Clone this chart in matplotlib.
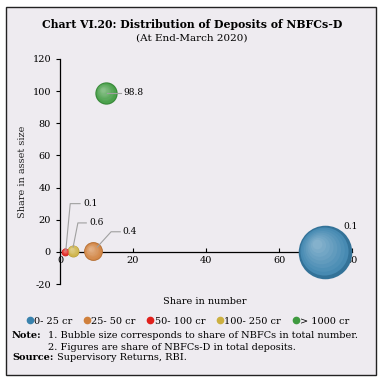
import matplotlib.pyplot as plt
import matplotlib.transforms as mtransforms
from matplotlib.patches import Rectangle
from matplotlib.lines import Line2D
import numpy as np

plt.rcParams['font.family'] = ['DejaVu Serif']
plt.rcParams['axes.unicode_minus'] = False

# data
groups = ['0- 25 cr', '25- 50 cr', '50- 100 cr', '100- 250 cr', '> 1000 cr']
share_number = [72.5, 9.0, 1.5, 3.6, 12.6]     # x
share_asset = [0.1, 0.4, 0.1, 0.6, 98.8]       # y
deposit_share = ['0.1', '0.4', '0.1', '0.6', '98.8']
colors = ['#3a82ad', '#d0803c', '#e0201c', '#ccb040', '#3f9a40']

# label positions for the figures (data coords)
label_xy = [(77.5, 16), (17, 12.5), (6.3, 30), (8, 18), (17.5, 99)]
leader = [None,
          [(10.2, 3), (14, 12.5), (16.5, 12.5)],
          [(1.6, 1), (2.8, 30), (5.5, 30)],
          [(3.6, 3), (4.9, 18), (7.2, 18)],
          [(13, 99), (16.8, 99)]]

bg = '#eeebf0'
fig = plt.figure(figsize=(3.84, 3.79), dpi=100)
fig.patch.set_facecolor('white')
fig.patches.append(Rectangle((6 / 384, 4 / 379), 370 / 384, 368 / 379, transform=fig.transFigure,
                             facecolor=bg, edgecolor='#222222', linewidth=1.0, zorder=-5))

ax = fig.add_axes([60 / 384, 1 - 284 / 379, 292 / 384, 225 / 379])
ax.set_facecolor('none')
ax.set_xlim(0, 80)
ax.set_ylim(-20, 120)

size_scale = 20.5


def lighten(c, f):
    rgb = np.array(plt.matplotlib.colors.to_rgb(c))
    return tuple(rgb + (1 - rgb) * f)


def darken(c, f):
    rgb = np.array(plt.matplotlib.colors.to_rgb(c))
    return tuple(rgb * (1 - f))


# bubbles with a bit of shading
for i in range(len(groups)):
    s = share_number[i] * size_scale
    d = np.sqrt(s)
    ax.scatter(share_number[i], share_asset[i], s=s, color=darken(colors[i], 0.12),
               zorder=3, clip_on=False, linewidths=0)
    for k in range(1, 9):
        f = k / 9
        off = mtransforms.offset_copy(ax.transData, fig=fig, x=-0.16 * d * f, y=0.16 * d * f, units='points')
        ax.scatter(share_number[i], share_asset[i], s=s * (1 - f * 0.92) ** 2,
                   color=lighten(colors[i], 0.02 + f * 0.4), transform=off,
                   zorder=3 + k * 0.01, clip_on=False, linewidths=0)

for i in range(len(groups)):
    if leader[i] is not None:
        xs, ys = zip(*leader[i])
        ax.plot(xs, ys, color='#a0a0a0', lw=0.8, zorder=4, clip_on=False)
    ax.text(label_xy[i][0], label_xy[i][1], deposit_share[i], fontsize=6.5,
            va='center', ha='left', zorder=5)

ax.spines['top'].set_visible(False)
ax.spines['right'].set_visible(False)
ax.spines['bottom'].set_position(('data', 0))
ax.spines['bottom'].set_bounds(0, 80)
for sp in ['left', 'bottom']:
    ax.spines[sp].set_linewidth(0.9)
ax.set_xticks([0, 20, 40, 60, 80])
ax.set_yticks([-20, 0, 20, 40, 60, 80, 100, 120])
ax.tick_params(axis='both', labelsize=7, length=3, width=0.8, direction='out')
ax.tick_params(axis='x', direction='in', pad=3)
ax.set_ylabel('Share in asset size', fontsize=7, color='#222222', labelpad=4)

fig.text(205 / 384, 1 - 302 / 379, 'Share in number', fontsize=7, ha='center', va='center')

fig.text(0.5, 1 - 24 / 379, 'Chart VI.20: Distribution of Deposits of NBFCs-D',
         fontsize=7.8, fontweight='bold', ha='center', va='center')
fig.text(0.5, 1 - 38 / 379, '(At End-March 2020)', fontsize=7.5, ha='center', va='center')

handles = [Line2D([], [], marker='o', ls='none', color=c, markersize=4.5) for c in colors]
fig.legend(handles, groups, loc='center', bbox_to_anchor=(188 / 384, 1 - 321 / 379), ncol=5,
           frameon=False, fontsize=7, handlelength=0.6, handletextpad=0.15, columnspacing=1.2,
           borderpad=0)

fs_note = 7.0
fig.text(12 / 384, 1 - 335 / 379, 'Note:', fontsize=fs_note, fontweight='bold', va='center')
fig.text(48 / 384, 1 - 335 / 379, '1. Bubble size corresponds to share of NBFCs in total number.',
         fontsize=fs_note, va='center')
fig.text(48 / 384, 1 - 347 / 379, '2. Figures are share of NBFCs-D in total deposits.',
         fontsize=fs_note, va='center')
fig.text(12 / 384, 1 - 358 / 379, 'Source:', fontsize=fs_note, fontweight='bold', va='center')
fig.text(57 / 384, 1 - 358 / 379, 'Supervisory Returns, RBI.', fontsize=fs_note, va='center')

fig.savefig('out.png', dpi=100, facecolor='white')
